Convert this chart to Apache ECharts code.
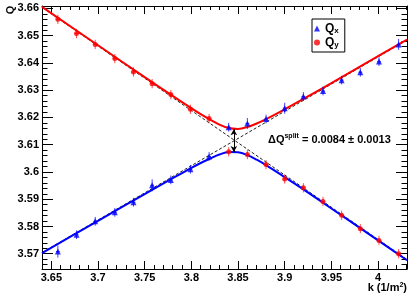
<!DOCTYPE html>
<html>
<head>
<meta charset="utf-8">
<script src="https://cdn.jsdelivr.net/npm/echarts@6/dist/echarts.min.js"></script>
<style>
  html, body { margin: 0; padding: 0; background: #fff; }
  #chart { width: 415px; height: 300px; }
</style>
</head>
<body>
<div id="chart"></div>
<script>
// ---- data ----
const kValues = [3.657, 3.677, 3.697, 3.718, 3.738, 3.758, 3.778, 3.799, 3.819, 3.840,
                 3.860, 3.880, 3.900, 3.920, 3.941, 3.961, 3.981, 4.001, 4.022];
const kErrors = [0.002, 0.002, 0.002, 0.002, 0.002, 0.002, 0.002, 0.002, 0.002, 0.002,
                 0.002, 0.002, 0.002, 0.002, 0.002, 0.002, 0.002, 0.002, 0.002];
const qxValues = [3.5708, 3.5770, 3.5819, 3.5852, 3.5889, 3.5951, 3.5971, 3.6010, 3.6057, 3.6164,
                  3.6178, 3.6194, 3.6234, 3.6277, 3.6297, 3.6337, 3.6366, 3.6405, 3.6468];
const qxErrors = [0.0022, 0.0016, 0.0016, 0.0016, 0.0016, 0.0022, 0.0016, 0.0016, 0.0016, 0.0016,
                  0.0020, 0.0016, 0.0020, 0.0016, 0.0016, 0.0016, 0.0016, 0.0016, 0.0020];
const qyValues = [3.6560, 3.6508, 3.6468, 3.6416, 3.6367, 3.6324, 3.6284, 3.6230, 3.6196, 3.6074,
                  3.6064, 3.6027, 3.5974, 3.5942, 3.5892, 3.5841, 3.5792, 3.5749, 3.5700];
const qyErrors = [0.0017, 0.0017, 0.0017, 0.0017, 0.0017, 0.0017, 0.0017, 0.0017, 0.0017, 0.0017,
                  0.0017, 0.0017, 0.0017, 0.0017, 0.0017, 0.0017, 0.0017, 0.0017, 0.0017];

// fitted curves
const curveK     = [3.64, 3.70, 3.75, 3.78, 3.80, 3.81, 3.82, 3.83, 3.84, 3.85,
                    3.86, 3.87, 3.88, 3.90, 3.92, 3.95, 4.00, 4.031];
const upperCurve = [3.6606, 3.6465, 3.6348, 3.6279, 3.6234, 3.6212, 3.6192, 3.6174, 3.6161, 3.6158,
                    3.6165, 3.6178, 3.6194, 3.6230, 3.6268, 3.6326, 3.6425, 3.6486];
const lowerCurve = [3.5702, 3.5821, 3.5919, 3.5977, 3.6015, 3.6033, 3.6049, 3.6064, 3.6073, 3.6072,
                    3.6062, 3.6045, 3.6025, 3.5981, 3.5936, 3.5866, 3.5749, 3.5676];

// uncoupled (dashed) asymptotes
const asymK = [3.64, 4.031];
const asymA = [3.6604, 3.5679];
const asymB = [3.5704, 3.6484];

// split arrow
const splitK = 3.8455;
const splitLow = 3.6073;
const splitHigh = 3.6157;
const splitText = '0.0084 \u00b1 0.0013';

// axis ranges
const xMin = 3.64, xMax = 4.031;
const yMin = 3.5644, yMax = 3.6609;

// ---- build ----
const FONT = "'Liberation Sans', Arial, Helvetica, sans-serif";
const RED = '#ff0000', BLUE = '#0000ff';

function zip(a, b) { return a.map((v, i) => [v, b[i]]); }
function errData(q, eq) { return kValues.map((k, i) => [k, q[i], eq[i], kErrors[i]]); }

function errRender(color) {
  return function (params, api) {
    const k = api.value(0), q = api.value(1), eq = api.value(2), ek = api.value(3);
    const t = api.coord([k, q + eq]), b = api.coord([k, q - eq]);
    const l = api.coord([k - ek, q]), r = api.coord([k + ek, q]);
    return {
      type: 'group',
      children: [
        { type: 'line', shape: { x1: t[0], y1: t[1], x2: b[0], y2: b[1] }, style: { stroke: color, lineWidth: 1 } },
        { type: 'line', shape: { x1: l[0], y1: l[1], x2: r[0], y2: r[1] }, style: { stroke: color, lineWidth: 1 } }
      ]
    };
  };
}

const labelStyle = { fontFamily: FONT, fontWeight: 'bold', fontSize: 11, color: '#000' };

function xAxisCfg(pos, showLabel) {
  return {
    type: 'value', position: pos, min: xMin, max: xMax, splitNumber: 8,
    axisLine: { show: true, onZero: false, lineStyle: { color: '#000', width: 1 } },
    axisTick: { show: true, inside: true, length: 8, lineStyle: { color: '#000' } },
    minorTick: { show: true, splitNumber: 5, length: 4, lineStyle: { color: '#000' } },
    splitLine: { show: false },
    axisLabel: Object.assign({ show: showLabel, margin: 3, showMinLabel: false, showMaxLabel: false }, labelStyle)
  };
}
function yAxisCfg(pos, showLabel) {
  return {
    type: 'value', position: pos, min: yMin, max: yMax, splitNumber: 10,
    axisLine: { show: true, onZero: false, lineStyle: { color: '#000', width: 1 } },
    axisTick: { show: true, inside: true, length: 11, lineStyle: { color: '#000' } },
    minorTick: { show: true, splitNumber: 5, length: 5.5, lineStyle: { color: '#000' } },
    splitLine: { show: false },
    axisLabel: Object.assign({ show: showLabel, margin: 3, showMinLabel: false, showMaxLabel: false }, labelStyle)
  };
}

const chart = echarts.init(document.getElementById('chart'), null, { renderer: 'canvas' });

const option = {
  animation: false,
  backgroundColor: '#fff',
  grid: { left: 42, top: 6, width: 365, height: 263, containLabel: false },
  xAxis: [xAxisCfg('bottom', true), xAxisCfg('top', false)],
  yAxis: [yAxisCfg('left', true), yAxisCfg('right', false)],
  legend: {
    left: 312, top: 19, orient: 'vertical',
    padding: [3, 6, 3, 2],
    itemWidth: 6, itemHeight: 6, itemGap: 1,
    backgroundColor: '#fff', borderColor: '#000', borderWidth: 1, borderRadius: 0,
    data: [{ name: 'Qx', icon: 'triangle' }, { name: 'Qy', icon: 'circle' }],
    formatter: function (name) { return 'Q{sub|' + name.slice(1) + '}'; },
    textStyle: {
      fontFamily: FONT, fontWeight: 'bold', fontSize: 12, color: '#000', lineHeight: 13,
      rich: { sub: { fontFamily: FONT, fontWeight: 'bold', fontSize: 8, color: '#000', verticalAlign: 'bottom', lineHeight: 8 } }
    }
  },
  series: [
    {
      name: 'asymA', type: 'line', data: zip(asymK, asymA), symbol: 'none', silent: true,
      lineStyle: { color: '#222', width: 1, type: [3, 2] }, z: 1
    },
    {
      name: 'asymB', type: 'line', data: zip(asymK, asymB), symbol: 'none', silent: true,
      lineStyle: { color: '#222', width: 1, type: [3, 2] }, z: 1
    },
    {
      name: 'upperFit', type: 'line', data: zip(curveK, upperCurve), symbol: 'none', smooth: 0.35,
      lineStyle: { color: RED, width: 2 }, z: 2, silent: true
    },
    {
      name: 'lowerFit', type: 'line', data: zip(curveK, lowerCurve), symbol: 'none', smooth: 0.35,
      lineStyle: { color: BLUE, width: 2 }, z: 2, silent: true,
      markLine: {
        silent: true, symbol: ['arrow', 'arrow'], symbolSize: [5, 6],
        label: { show: false },
        lineStyle: { color: '#000', width: 1, type: 'solid' },
        data: [[{ coord: [splitK, splitLow] }, { coord: [splitK, splitHigh] }]]
      }
    },
    {
      name: 'QxErr', type: 'custom', data: errData(qxValues, qxErrors),
      encode: { x: 0, y: 1 }, renderItem: errRender('rgba(0,0,255,0.75)'), z: 3, silent: true
    },
    {
      name: 'QyErr', type: 'custom', data: errData(qyValues, qyErrors),
      encode: { x: 0, y: 1 }, renderItem: errRender('rgba(255,0,0,0.7)'), z: 3, silent: true
    },
    {
      name: 'Qx', type: 'scatter', data: zip(kValues, qxValues), symbol: 'triangle', symbolSize: 6,
      itemStyle: { color: BLUE }, z: 4
    },
    {
      name: 'Qy', type: 'scatter', data: zip(kValues, qyValues), symbol: 'circle', symbolSize: 5,
      itemStyle: { color: RED }, z: 4
    }
  ],
  graphic: [
    {
      type: 'text', x: 10.5, y: 10, rotation: Math.PI / 2,
      style: { text: 'Q', font: 'bold 11px ' + FONT, fill: '#000', align: 'center', verticalAlign: 'middle' }
    },
    {
      type: 'text', x: 407, y: 288,
      style: {
        text: 'k (1/m{sup|2})', font: 'bold 11px ' + FONT, fill: '#000',
        align: 'right', verticalAlign: 'middle', lineHeight: 13,
        rich: { sup: { font: 'bold 7px ' + FONT, fill: '#000', verticalAlign: 'top', lineHeight: 7 } }
      }
    },
    {
      type: 'text', x: 268, y: 140,
      style: {
        text: '\u0394Q{sup|split} = ' + splitText, font: 'bold 11px ' + FONT, fill: '#000',
        align: 'left', verticalAlign: 'middle', lineHeight: 14,
        rich: { sup: { font: 'bold 7px ' + FONT, fill: '#000', verticalAlign: 'top', lineHeight: 7 } }
      }
    }
  ]
};
chart.setOption(option);
</script>
</body>
</html>
